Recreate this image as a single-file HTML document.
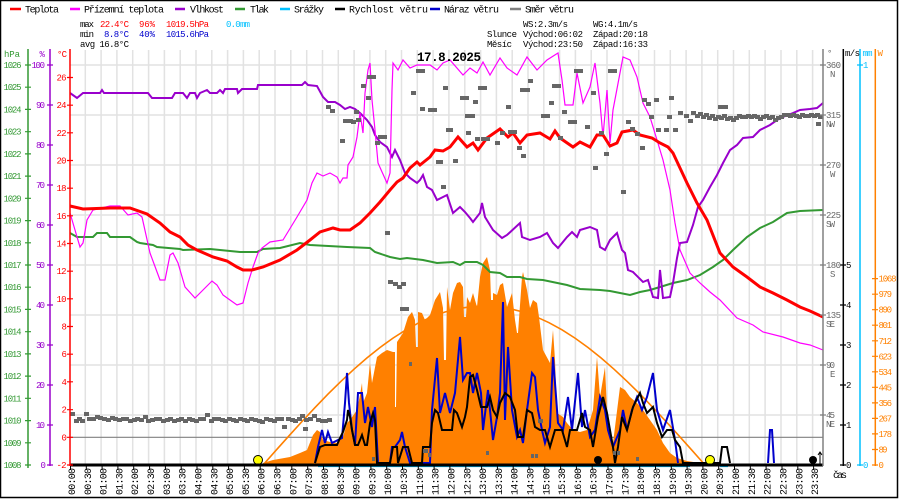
<!DOCTYPE html>
<html><head><meta charset="utf-8"><style>
html,body{margin:0;padding:0;background:#fff;}
svg{display:block;}
text{font-family:"Liberation Mono","DejaVu Sans Mono",monospace;}
</style></head><body>
<svg width="900" height="500" viewBox="0 0 900 500" xmlns="http://www.w3.org/2000/svg">
<rect x="0" y="0" width="900" height="500" fill="#fff"/>
<rect x="0.5" y="0.5" width="897" height="497" fill="none" stroke="#000" stroke-width="1.5"/>

<!-- grid -->
<g stroke="#e2e2e2" stroke-width="1.5">
<path d="M70 65H823M70 115H823M70 165H823M70 215H823M70 265H823M70 315H823M70 365H823M70 415H823"/>
<path d="M85.3 50V465M101.1 50V465M116.9 50V465M132.7 50V465M148.6 50V465M164.4 50V465M180.2 50V465M196 50V465M211.8 50V465M227.6 50V465M243.4 50V465M259.2 50V465M275 50V465M290.8 50V465M306.7 50V465M322.5 50V465M338.3 50V465M354.1 50V465M369.9 50V465M385.7 50V465M401.5 50V465M417.3 50V465M433.1 50V465M448.9 50V465M464.8 50V465M480.6 50V465M496.4 50V465M512.2 50V465M528 50V465M543.8 50V465M559.6 50V465M575.4 50V465M591.2 50V465M607 50V465M622.9 50V465M638.7 50V465M654.5 50V465M670.3 50V465M686.1 50V465M701.9 50V465M717.7 50V465M733.5 50V465M749.3 50V465M765.1 50V465M781 50V465M796.8 50V465M812.6 50V465"/>
</g>
<path d="M70 437.3H823" stroke="#808080" stroke-width="1.2"/>

<!-- solar radiation area -->
<polygon fill="#ff8000" points="263,465 263,463 273,460 290,457 300,453 307,450 313,435 317,430 320,432 323,440 330,442 337,443 343,437 347,423 350,420 357,410 360,395 362,383 363,403 367,393 370,363 372,383 377,357 382,353 387,350 393,352 395,352 395,407 396,407 397,342 403,333 408,317 412,312 415,320 416,347 418,347 418,312 422,313 425,320 430,315 435,300 440,292 443,308 444,360 446,360 447,287 450,310 453,293 457,283 460,282 463,287 464,317 466,317 467,297 470,303 473,293 477,307 480,277 483,263 487,257 490,270 491,300 493,300 493,293 497,295 500,285 503,283 507,307 512,293 515,320 517,333 518,333 522,277 523,272 527,290 530,308 533,300 537,303 539,317 543,350 550,363 553,330 555,360 557,413 563,417 567,423 573,430 580,432 587,430 593,410 597,357 600,397 605,367 607,410 610,430 613,443 620,387 625,390 630,397 637,403 643,410 650,420 657,430 663,443 670,453 677,458 687,461 700,463 707,465"/>
<!-- theoretical radiation -->
<polyline fill="none" stroke="#ff8000" stroke-width="1.6" points="263,465 276,450.3 289,435.8 302,421.5 315,407.6 328,394.1 341,381.3 354,369.2 367,357.9 380,347.5 393,338.1 406,329.8 419,322.7 432,316.7 445,312 458,308.7 471,306.7 484,306 497,306.7 510,308.7 523,312 536,316.7 549,322.7 562,329.8 575,338.1 588,347.5 601,357.9 614,369.2 627,381.3 640,394.1 653,407.6 666,421.5 679,435.8 692,450.3 705,465"/>

<!-- pressure -->
<polyline fill="none" stroke="#339933" stroke-width="2" points="70,233 77,237 93,237 97,233 107,233 110,237 130,237 137,242 140,243 153,245 157,247 180,249 183,250 210,249 240,252 257,252 263,249 280,248 300,243 310,245 347,247 370,248 375,252 390,257 400,259 407,258 423,260 437,263 453,262 460,265 465,262 477,262 483,265 490,272 500,273 507,277 520,277 527,279 543,280 567,285 580,289 600,290 610,291 620,293 630,295 640,292 650,290 660,287 673,283 687,280 700,275 713,267 723,260 733,250 747,237 760,228 773,222 787,213 800,211 823,210"/>
<!-- humidity -->
<polyline fill="none" stroke="#9900cc" stroke-width="2" points="70,93 77,98 83,93 100,93 102,90 104,93 148,93 152,98 172,98 175,93 183,93 187,98 190,93 195,93 197,98 200,93 207,90 210,93 217,93 220,90 223,93 225,89 237,89 238,93 242,89 257,89 258,85 302,85 305,82 308,85 317,86 323,97 328,102 335,102 340,105 345,109 350,107 355,109 360,113 367,120 372,127 375,135 380,142 387,147 392,157 395,150 400,160 405,173 410,178 417,183 420,180 423,175 427,187 432,190 437,200 447,195 453,213 460,207 465,212 470,218 473,222 480,213 482,203 485,217 493,230 502,238 507,235 520,223 522,237 530,240 540,237 547,233 553,243 558,248 567,237 572,232 577,237 580,230 590,227 597,230 600,247 605,250 610,240 617,233 622,250 625,253 628,270 633,272 643,282 648,280 653,297 658,298 660,270 663,298 670,297 673,283 677,258 680,243 687,242 693,225 698,207 703,200 710,187 717,175 723,163 730,150 737,145 743,138 753,137 760,130 770,125 777,120 783,117 793,113 800,110 810,109 817,108 823,103"/>
<!-- apparent temperature -->
<polyline fill="none" stroke="#ff00ff" stroke-width="1.2" points="70,213 75,230 80,247 83,243 87,220 93,210 110,206 120,206 128,215 137,213 142,217 150,253 160,280 165,280 170,255 173,253 178,263 185,287 195,298 203,290 212,281 217,285 223,295 230,300 237,305 243,303 248,283 253,267 258,253 262,248 270,242 283,240 297,217 307,200 312,183 317,173 323,176 330,173 337,177 340,183 343,178 347,178 348,165 353,157 357,137 360,113 363,133 365,93 368,70 370,63 372,100 375,130 378,163 387,183 390,173 392,90 393,63 398,70 403,60 410,68 417,65 430,65 437,70 443,63 450,60 463,75 470,68 477,73 483,62 490,75 500,58 507,68 517,75 527,57 537,70 547,60 558,53 562,80 565,105 573,105 577,73 583,103 590,87 595,63 600,103 603,137 607,90 610,143 613,110 623,57 630,60 637,77 643,103 650,117 657,140 663,160 670,190 675,223 680,250 690,273 700,283 710,292 720,300 737,318 753,325 763,332 783,337 800,343 810,345 823,350"/>
<!-- temperature -->
<polyline fill="none" stroke="#ff0000" stroke-width="3" points="70,206 83,209 110,208 130,208 147,214 160,223 170,232 180,237 188,245 197,250 213,257 227,261 237,267 243,270 252,270 263,267 280,260 297,250 310,240 320,232 333,228 340,230 350,230 360,223 370,213 380,202 390,190 397,182 403,178 410,168 417,162 420,165 430,157 435,150 443,151 450,147 458,137 467,147 473,143 478,150 487,138 500,129 508,137 513,133 520,143 527,135 540,133 550,139 555,131 560,138 573,147 580,142 590,147 597,135 603,135 610,146 617,143 622,132 633,130 640,135 652,138 660,143 668,147 673,153 687,183 697,203 707,220 720,253 733,267 747,277 760,287 773,293 787,300 800,307 810,311 823,317"/>

<!-- gusts -->
<polyline fill="none" stroke="#0000cc" stroke-width="2" points="315,463 318,447 322,430 325,443 328,432 332,443 342,438 345,403 347,373 349,403 352,430 355,445 358,393 362,393 365,423 368,407 372,427 375,407 378,463 390,463 392,447 395,447 400,440 402,432 405,447 410,463 430,463 432,410 437,358 440,413 445,393 450,413 455,393 460,337 463,380 467,373 470,373 473,393 477,373 481,393 483,430 488,390 493,440 497,417 500,393 503,302 505,420 508,347 512,410 517,437 520,430 523,443 527,410 532,373 535,377 538,410 542,430 545,443 550,427 553,357 555,383 558,423 563,430 568,397 572,430 578,373 582,427 585,410 590,437 595,430 600,397 605,410 608,430 613,447 620,430 623,410 627,430 632,410 637,397 642,410 647,397 653,373 657,410 663,430 670,410 675,440 678,463"/>
<polyline fill="none" stroke="#0000cc" stroke-width="2" points="768,463 770,430 772,430 774,463"/>
<!-- wind speed -->
<polyline fill="none" stroke="#000" stroke-width="2" points="315,463 320,447 325,445 337,445 340,438 343,432 347,420 348,410 350,417 352,430 355,445 358,445 362,435 365,445 367,445 370,423 373,413 375,420 377,463 390,463 393,447 397,447 398,463 403,447 408,447 412,463 422,463 423,447 430,447 432,423 435,410 438,413 442,430 452,430 454,410 457,413 462,427 465,417 467,407 470,377 473,375 477,390 481,407 487,407 490,397 493,410 497,417 500,403 505,393 510,397 515,410 518,437 523,437 527,410 532,413 535,427 540,430 545,430 550,447 555,430 562,430 567,447 570,430 577,430 582,413 585,427 590,430 593,447 598,417 603,397 607,413 610,430 613,447 615,463 618,447 622,417 627,430 633,407 640,393 643,403 647,413 653,407 657,423 662,437 667,430 672,430 675,440 680,447 683,463 720,463 722,447 727,447 730,463"/>

<!-- wind direction squares -->
<path fill="#666" d="M70 412h5v4h-5zM74 419h5v4h-5zM77 417h5v4h-5zM80 419h5v4h-5zM84 412h5v4h-5zM87 417h5v4h-5zM91 417h5v4h-5zM95 415h5v4h-5zM98 416h5v4h-5zM102 417h5v4h-5zM106 418h5v4h-5zM110 416h5v4h-5zM113 417h5v4h-5zM117 418h5v4h-5zM121 417h5v4h-5zM124 417h5v4h-5zM128 419h5v4h-5zM132 418h5v4h-5zM135 417h5v4h-5zM139 418h5v4h-5zM143 415h5v4h-5zM146 419h5v4h-5zM150 418h5v4h-5zM154 417h5v4h-5zM157 417h5v4h-5zM161 419h5v4h-5zM165 418h5v4h-5zM168 417h5v4h-5zM172 419h5v4h-5zM176 418h5v4h-5zM179 417h5v4h-5zM183 419h5v4h-5zM187 417h5v4h-5zM190 418h5v4h-5zM194 419h5v4h-5zM198 417h5v4h-5zM201 417h5v4h-5zM205 413h5v4h-5zM209 419h5v4h-5zM212 417h5v4h-5zM216 417h5v4h-5zM220 418h5v4h-5zM223 419h5v4h-5zM227 417h5v4h-5zM231 418h5v4h-5zM234 419h5v4h-5zM238 417h5v4h-5zM242 418h5v4h-5zM245 419h5v4h-5zM249 417h5v4h-5zM253 418h5v4h-5zM257 419h5v4h-5zM260 420h5v4h-5zM264 417h5v4h-5zM268 418h5v4h-5zM272 419h5v4h-5zM275 417h5v4h-5zM279 417h5v4h-5zM282 425h5v4h-5zM286 417h5v4h-5zM290 418h5v4h-5zM293 419h5v4h-5zM297 417h5v4h-5zM300 414h5v4h-5zM304 418h5v4h-5zM303 427h5v4h-5zM308 417h5v4h-5zM312 414h5v4h-5zM316 418h5v4h-5zM320 419h5v4h-5zM323 419h5v4h-5zM327 418h5v4h-5z
M385 231h5v4h-5zM388 280h5v4h-5zM393 282h5v4h-5zM397 285h5v4h-5zM401 282h5v4h-5zM400 307h5v4h-5zM404 307h5v4h-5zM409 362h3v4h-3zM372 457h3v4h-3zM423 449h5v4h-5zM428 453h3v4h-3zM486 451h3v4h-3zM538 419h5v4h-5zM531 454h3v4h-3zM535 454h3v4h-3zM613 451h3v4h-3zM617 451h3v4h-3zM636 457h3v4h-3z
M326 105h5v4h-5zM330 109h5v4h-5zM340 139h5v4h-5zM343 119h5v4h-5zM348 119h5v4h-5zM351 120h5v4h-5zM354 110h5v4h-5zM356 118h5v4h-5zM361 84h5v4h-5zM366 96h5v4h-5zM367 75h5v4h-5zM371 75h5v4h-5zM375 141h5v4h-5zM378 135h5v4h-5zM382 135h5v4h-5zM411 91h5v4h-5zM416 69h5v4h-5zM420 69h5v4h-5zM420 107h5v4h-5zM428 108h5v4h-5zM432 108h5v4h-5zM436 160h5v4h-5zM441 185h5v4h-5zM446 128h5v4h-5zM443 86h5v4h-5zM438 160h5v4h-5zM448 128h5v4h-5zM453 159h5v4h-5zM460 96h5v4h-5zM464 96h5v4h-5zM465 114h5v4h-5zM470 114h5v4h-5zM473 100h5v4h-5zM478 86h5v4h-5zM482 86h5v4h-5zM466 131h5v4h-5zM475 137h5v4h-5zM481 137h5v4h-5zM485 137h5v4h-5zM495 141h5v4h-5zM500 131h5v4h-5zM508 130h5v4h-5zM512 130h5v4h-5zM506 105h5v4h-5zM517 146h5v4h-5zM520 88h5v4h-5zM525 88h5v4h-5zM521 154h5v4h-5zM528 79h5v4h-5zM541 114h5v4h-5zM545 114h5v4h-5zM549 101h5v4h-5zM552 84h5v4h-5zM556 84h5v4h-5zM558 136h5v4h-5zM562 110h5v4h-5zM568 120h5v4h-5zM572 120h5v4h-5zM574 69h5v4h-5zM578 69h5v4h-5zM585 125h5v4h-5zM591 91h5v4h-5zM593 166h5v4h-5zM599 131h5v4h-5zM604 152h5v4h-5zM608 69h5v4h-5zM612 69h5v4h-5zM621 190h5v4h-5zM626 120h5v4h-5zM630 127h5v4h-5zM635 132h5v4h-5zM640 146h5v4h-5zM642 98h5v4h-5zM646 102h5v4h-5zM649 115h5v4h-5zM654 98h5v4h-5zM656 128h5v4h-5zM664 128h5v4h-5zM667 115h5v4h-5zM669 96h5v4h-5zM673 128h5v4h-5zM678 111h5v4h-5zM684 114h5v4h-5zM688 119h5v4h-5zM691 111h5v4h-5zM718 105h5v4h-5zM723 105h5v4h-5zM816 122h5v4h-5z
M695 114h5v4h-5zM698 112h5v4h-5zM701 115h5v4h-5zM704 113h5v4h-5zM707 116h5v4h-5zM710 114h5v4h-5zM713 117h5v4h-5zM716 115h5v4h-5zM719 116h5v4h-5zM722 114h5v4h-5zM725 117h5v4h-5zM728 116h5v4h-5zM731 118h5v4h-5zM734 116h5v4h-5zM737 114h5v4h-5zM740 115h5v4h-5zM743 115h5v4h-5zM746 114h5v4h-5zM749 115h5v4h-5zM752 114h5v4h-5zM755 115h5v4h-5zM758 117h5v4h-5zM761 115h5v4h-5zM764 114h5v4h-5zM767 116h5v4h-5zM770 115h5v4h-5zM773 118h5v4h-5zM776 116h5v4h-5zM779 115h5v4h-5zM782 113h5v4h-5zM785 113h5v4h-5zM788 114h5v4h-5zM791 113h5v4h-5zM794 114h5v4h-5zM797 115h5v4h-5zM800 113h5v4h-5zM803 114h5v4h-5zM806 114h5v4h-5zM809 113h5v4h-5zM812 114h5v4h-5zM815 113h5v4h-5zM818 115h5v4h-5z"/>

<!-- markers -->
<circle cx="258" cy="460" r="4.5" fill="#ffff00" stroke="#000" stroke-width="1"/>
<circle cx="710" cy="460" r="4.5" fill="#ffff00" stroke="#000" stroke-width="1"/>
<circle cx="598" cy="460" r="4" fill="#000"/>
<circle cx="813" cy="460" r="4" fill="#000"/>
<path d="M820 464V452M818 455L820 452L822 455" stroke="#000" stroke-width="1" fill="none"/>
<path d="M318 466.5H690M720 466.5H728" stroke="#00c0ff" stroke-width="1.2"/>

<!-- bottom axis -->
<path d="M70 465H823" stroke="#000" stroke-width="3"/>
<path stroke="#000" stroke-width="1" d="M70.5 466v4M86.3 466v4M102.1 466v4M117.9 466v4M133.7 466v4M149.6 466v4M165.4 466v4M181.2 466v4M197 466v4M212.8 466v4M228.6 466v4M244.4 466v4M260.2 466v4M276 466v4M291.8 466v4M307.7 466v4M323.5 466v4M339.3 466v4M355.1 466v4M370.9 466v4M386.7 466v4M402.5 466v4M418.3 466v4M434.1 466v4M449.9 466v4M465.8 466v4M481.6 466v4M497.4 466v4M513.2 466v4M529 466v4M544.8 466v4M560.6 466v4M576.4 466v4M592.2 466v4M608 466v4M623.9 466v4M639.7 466v4M655.5 466v4M671.3 466v4M687.1 466v4M702.9 466v4M718.7 466v4M734.5 466v4M750.3 466v4M766.1 466v4M782 466v4M797.8 466v4M813.6 466v4"/>

<!-- time labels -->
<g font-size="10" fill="#000">
<text transform="translate(75,495) rotate(-90)" textLength="27">00:00</text>
<text transform="translate(90.8,495) rotate(-90)" textLength="27">00:30</text>
<text transform="translate(106.6,495) rotate(-90)" textLength="27">01:00</text>
<text transform="translate(122.4,495) rotate(-90)" textLength="27">01:30</text>
<text transform="translate(138.2,495) rotate(-90)" textLength="27">02:00</text>
<text transform="translate(154.1,495) rotate(-90)" textLength="27">02:30</text>
<text transform="translate(169.9,495) rotate(-90)" textLength="27">03:00</text>
<text transform="translate(185.7,495) rotate(-90)" textLength="27">03:30</text>
<text transform="translate(201.5,495) rotate(-90)" textLength="27">04:00</text>
<text transform="translate(217.3,495) rotate(-90)" textLength="27">04:30</text>
<text transform="translate(233.1,495) rotate(-90)" textLength="27">05:00</text>
<text transform="translate(248.9,495) rotate(-90)" textLength="27">05:30</text>
<text transform="translate(264.7,495) rotate(-90)" textLength="27">06:00</text>
<text transform="translate(280.5,495) rotate(-90)" textLength="27">06:30</text>
<text transform="translate(296.3,495) rotate(-90)" textLength="27">07:00</text>
<text transform="translate(312.2,495) rotate(-90)" textLength="27">07:30</text>
<text transform="translate(328,495) rotate(-90)" textLength="27">08:00</text>
<text transform="translate(343.8,495) rotate(-90)" textLength="27">08:30</text>
<text transform="translate(359.6,495) rotate(-90)" textLength="27">09:00</text>
<text transform="translate(375.4,495) rotate(-90)" textLength="27">09:30</text>
<text transform="translate(391.2,495) rotate(-90)" textLength="27">10:00</text>
<text transform="translate(407,495) rotate(-90)" textLength="27">10:30</text>
<text transform="translate(422.8,495) rotate(-90)" textLength="27">11:00</text>
<text transform="translate(438.6,495) rotate(-90)" textLength="27">11:30</text>
<text transform="translate(454.4,495) rotate(-90)" textLength="27">12:00</text>
<text transform="translate(470.3,495) rotate(-90)" textLength="27">12:30</text>
<text transform="translate(486.1,495) rotate(-90)" textLength="27">13:00</text>
<text transform="translate(501.9,495) rotate(-90)" textLength="27">13:30</text>
<text transform="translate(517.7,495) rotate(-90)" textLength="27">14:00</text>
<text transform="translate(533.5,495) rotate(-90)" textLength="27">14:30</text>
<text transform="translate(549.3,495) rotate(-90)" textLength="27">15:00</text>
<text transform="translate(565.1,495) rotate(-90)" textLength="27">15:30</text>
<text transform="translate(580.9,495) rotate(-90)" textLength="27">16:00</text>
<text transform="translate(596.7,495) rotate(-90)" textLength="27">16:30</text>
<text transform="translate(612.5,495) rotate(-90)" textLength="27">17:00</text>
<text transform="translate(628.4,495) rotate(-90)" textLength="27">17:30</text>
<text transform="translate(644.2,495) rotate(-90)" textLength="27">18:00</text>
<text transform="translate(660,495) rotate(-90)" textLength="27">18:30</text>
<text transform="translate(675.8,495) rotate(-90)" textLength="27">19:00</text>
<text transform="translate(691.6,495) rotate(-90)" textLength="27">19:30</text>
<text transform="translate(707.4,495) rotate(-90)" textLength="27">20:00</text>
<text transform="translate(723.2,495) rotate(-90)" textLength="27">20:30</text>
<text transform="translate(739,495) rotate(-90)" textLength="27">21:00</text>
<text transform="translate(754.8,495) rotate(-90)" textLength="27">21:30</text>
<text transform="translate(770.6,495) rotate(-90)" textLength="27">22:00</text>
<text transform="translate(786.5,495) rotate(-90)" textLength="27">22:30</text>
<text transform="translate(802.3,495) rotate(-90)" textLength="27">23:00</text>
<text transform="translate(818.1,495) rotate(-90)" textLength="27">23:30</text>
</g>
<text x="833" y="478" font-size="10" fill="#000" textLength="14">čas</text>

<!-- left axes -->
<path d="M28 49V468" stroke="#339933" stroke-width="1.5"/>
<path d="M50 49V466" stroke="#9900cc" stroke-width="1.5"/>
<path d="M70 49V466" stroke="#ff0000" stroke-width="1.5"/>
<path stroke="#339933" stroke-width="1.2" d="M25 65h6M25 87.2h6M25 109.4h6M25 131.7h6M25 153.9h6M25 176.1h6M25 198.3h6M25 220.6h6M25 242.8h6M25 265h6M25 287.2h6M25 309.4h6M25 331.7h6M25 353.9h6M25 376.1h6M25 398.3h6M25 420.6h6M25 442.8h6M25 465h6"/>
<path stroke="#9900cc" stroke-width="1.2" d="M47 65h6M47 105h6M47 145h6M47 185h6M47 225h6M47 265h6M47 305h6M47 345h6M47 385h6M47 425h6M47 465h6"/>
<path stroke="#ff0000" stroke-width="1.2" d="M67 77.5h6M67 105.2h6M67 132.8h6M67 160.5h6M67 188.2h6M67 215.8h6M67 243.5h6M67 271.2h6M67 298.8h6M67 326.5h6M67 354.2h6M67 381.8h6M67 409.7h6M67 437.3h6M67 465h6"/>
<g font-size="9" fill="#339933">
<text x="3.5" y="68" textLength="18">1026</text><text x="3.5" y="90.2" textLength="18">1025</text><text x="3.5" y="112.4" textLength="18">1024</text><text x="3.5" y="134.7" textLength="18">1023</text><text x="3.5" y="156.9" textLength="18">1022</text><text x="3.5" y="179.1" textLength="18">1021</text><text x="3.5" y="201.3" textLength="18">1020</text><text x="3.5" y="223.6" textLength="18">1019</text><text x="3.5" y="245.8" textLength="18">1018</text><text x="3.5" y="268" textLength="18">1017</text><text x="3.5" y="290.2" textLength="18">1016</text><text x="3.5" y="312.4" textLength="18">1015</text><text x="3.5" y="334.7" textLength="18">1014</text><text x="3.5" y="356.9" textLength="18">1013</text><text x="3.5" y="379.1" textLength="18">1012</text><text x="3.5" y="401.3" textLength="18">1011</text><text x="3.5" y="423.6" textLength="18">1010</text><text x="3.5" y="445.8" textLength="18">1009</text><text x="3.5" y="468" textLength="18">1008</text>
<text x="4" y="57" textLength="16">hPa</text>
</g>
<g font-size="9" fill="#9900cc">
<text x="31.5" y="68" textLength="13.5">100</text><text x="36" y="108" textLength="9">90</text><text x="36" y="148" textLength="9">80</text><text x="36" y="188" textLength="9">70</text><text x="36" y="228" textLength="9">60</text><text x="36" y="268" textLength="9">50</text><text x="36" y="308" textLength="9">40</text><text x="36" y="348" textLength="9">30</text><text x="36" y="388" textLength="9">20</text><text x="36" y="428" textLength="9">10</text><text x="40.5" y="468">0</text>
<text x="39.5" y="57">%</text>
</g>
<g font-size="9" fill="#ff0000">
<text x="56.5" y="80.5" textLength="10">26</text><text x="56.5" y="108.2" textLength="10">24</text><text x="56.5" y="135.8" textLength="10">22</text><text x="56.5" y="163.5" textLength="10">20</text><text x="56.5" y="191.2" textLength="10">18</text><text x="56.5" y="218.8" textLength="10">16</text><text x="56.5" y="246.5" textLength="10">14</text><text x="56.5" y="274.2" textLength="10">12</text><text x="56.5" y="301.8" textLength="10">10</text><text x="61.5" y="329.5">8</text><text x="61.5" y="357.2">6</text><text x="61.5" y="384.8">4</text><text x="61.5" y="412.7">2</text><text x="61.5" y="440.3">0</text><text x="56.5" y="468" textLength="10">-2</text>
<text x="57" y="57" textLength="10">°C</text>
</g>

<!-- right axes -->
<path d="M823 49V466" stroke="#808080" stroke-width="1.5"/>
<path d="M843.3 49V466" stroke="#000" stroke-width="1.5"/>
<path d="M860 49V466" stroke="#00c0ff" stroke-width="1.5"/>
<path d="M875.3 49V466" stroke="#ff8000" stroke-width="1.5"/>
<path stroke="#808080" stroke-width="1.2" d="M820 65h6M820 115h6M820 165h6M820 215h6M820 265h6M820 315h6M820 365h6M820 415h6"/>
<path stroke="#000" stroke-width="1.2" d="M840 265h6M840 305h6M840 345h6M840 385h6M840 425h6M840 465h6"/>
<path stroke="#00c0ff" stroke-width="1.2" d="M857 65h6M857 465h6"/>
<path stroke="#ff8000" stroke-width="1.2" d="M872 278.6h6M872 294.2h6M872 309.7h6M872 325.2h6M872 340.8h6M872 356.3h6M872 371.8h6M872 387.3h6M872 402.9h6M872 418.4h6M872 433.9h6M872 449.5h6M872 465h6"/>
<g font-size="9" fill="#666">
<text x="826" y="68" textLength="15">360</text><text x="830" y="77">N</text>
<text x="826" y="118" textLength="15">315</text><text x="826" y="127" textLength="9">NW</text>
<text x="826" y="168" textLength="15">270</text><text x="830" y="177">W</text>
<text x="826" y="218" textLength="15">225</text><text x="826" y="227" textLength="9">SW</text>
<text x="826" y="268" textLength="15">180</text><text x="830" y="277">S</text>
<text x="826" y="318" textLength="15">135</text><text x="826" y="327" textLength="9">SE</text>
<text x="826" y="368" textLength="9">90</text><text x="830" y="377">E</text>
<text x="826" y="418" textLength="9">45</text><text x="826" y="427" textLength="9">NE</text>
<text x="827" y="56">°</text>
</g>
<g font-size="9" fill="#000">
<text x="846" y="268">5</text><text x="846" y="308">4</text><text x="846" y="348">3</text><text x="846" y="388">2</text><text x="846" y="428">1</text><text x="846" y="468">0</text>
<text x="845" y="56" textLength="15">m/s</text>
</g>
<g font-size="9" fill="#00c0ff">
<text x="863" y="68">1</text><text x="863" y="468">0</text>
<text x="862.5" y="56" textLength="10">mm</text>
</g>
<g font-size="9" fill="#ff8000">
<text x="878.5" y="281.6" textLength="18">1068</text><text x="878.5" y="297.2" textLength="13.5">979</text><text x="878.5" y="312.7" textLength="13.5">890</text><text x="878.5" y="328.2" textLength="13.5">801</text><text x="878.5" y="343.8" textLength="13.5">712</text><text x="878.5" y="359.3" textLength="13.5">623</text><text x="878.5" y="374.8" textLength="13.5">534</text><text x="878.5" y="390.3" textLength="13.5">445</text><text x="878.5" y="405.9" textLength="13.5">356</text><text x="878.5" y="421.4" textLength="13.5">267</text><text x="878.5" y="436.9" textLength="13.5">178</text><text x="878.5" y="452.5" textLength="9">89</text><text x="878.5" y="468">0</text>
<text x="877.5" y="56">W</text>
</g>

<!-- title -->
<text x="417" y="61" font-size="12.5" font-weight="bold" fill="#000" textLength="64">17.8.2025</text>

<!-- legend -->
<g stroke-width="2.5">
<path d="M10 9H21" stroke="#ff0000"/>
<path d="M70 9H80" stroke="#ff00ff"/>
<path d="M175 9H185" stroke="#9900cc"/>
<path d="M235 9H245" stroke="#339933"/>
<path d="M280 9H290" stroke="#00c0ff"/>
<path d="M335 9H345" stroke="#000"/>
<path d="M430 9H440" stroke="#0000cc"/>
<path d="M510 9H521" stroke="#808080"/>
</g>
<g font-size="10" fill="#000">
<text x="25" y="12.5" textLength="34">Teplota</text>
<text x="84" y="12.5" textLength="80">Přízemní teplota</text>
<text x="190" y="12.5" textLength="34">Vlhkost</text>
<text x="250" y="12.5" textLength="19">Tlak</text>
<text x="294" y="12.5" textLength="30">Srážky</text>
<text x="349" y="12.5" textLength="79">Rychlost větru</text>
<text x="444" y="12.5" textLength="55">Náraz větru</text>
<text x="525" y="12.5" textLength="49">Směr větru</text>
</g>

<!-- stats -->
<g font-size="9">
<text x="80" y="27" fill="#000" textLength="14">max</text>
<text x="100" y="27" fill="#ff0000" textLength="29">22.4°C</text>
<text x="139" y="27" fill="#ff0000" textLength="16">96%</text>
<text x="166" y="27" fill="#ff0000" textLength="43">1019.5hPa</text>
<text x="226" y="27" fill="#00c0ff" textLength="24">0.0mm</text>
<text x="80" y="37" fill="#000" textLength="14">min</text>
<text x="104" y="37" fill="#0000cc" textLength="25">8.8°C</text>
<text x="139" y="37" fill="#0000cc" textLength="16">40%</text>
<text x="166" y="37" fill="#0000cc" textLength="43">1015.6hPa</text>
<text x="80" y="47" fill="#000" textLength="49">avg 16.8°C</text>
<text x="523" y="27" fill="#000" textLength="45">WS:2.3m/s</text>
<text x="593" y="27" fill="#000" textLength="45">WG:4.1m/s</text>
<text x="487" y="37" fill="#000" textLength="30">Slunce</text>
<text x="523" y="37" fill="#000" textLength="60">Východ:06:02</text>
<text x="593" y="37" fill="#000" textLength="55">Západ:20:18</text>
<text x="487" y="47" fill="#000" textLength="25">Měsíc</text>
<text x="523" y="47" fill="#000" textLength="60">Východ:23:50</text>
<text x="593" y="47" fill="#000" textLength="55">Západ:16:33</text>
</g>
</svg>
</body></html>
